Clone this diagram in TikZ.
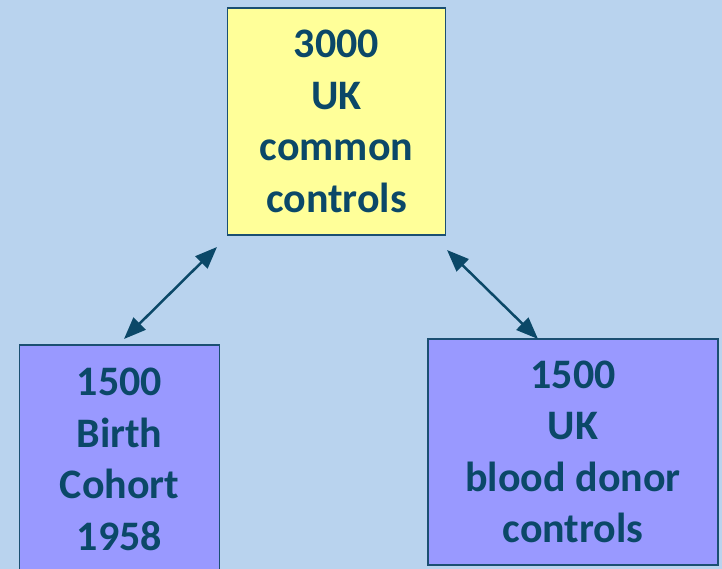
\documentclass[tikz,border=0pt]{standalone}
\usepackage{fontspec}
\setmainfont{Carlito}
\usetikzlibrary{arrows.meta}
\definecolor{bgblue}{HTML}{B9D3EE}
\definecolor{ink}{HTML}{0B4868}
\definecolor{boxline}{HTML}{1B4F72}
\definecolor{paleyellow}{HTML}{FFFF99}
\definecolor{lilac}{HTML}{9999FF}
\tikzset{
  cohortbox/.style={draw=boxline, line width=1.5pt, rectangle, align=center,
    text=ink, font=\fontsize{42}{51.5}\selectfont\bfseries, inner sep=0pt},
  tip/.tip={Triangle[length=22pt,width=17pt]},
  link/.style={draw=ink, line width=2.5pt, tip-tip}
}
\begin{document}
\begin{tikzpicture}[x=1pt,y=-1pt]
  \fill[bgblue] (0,0) rectangle (722,569);
  \useasboundingbox (0,0) rectangle (722,569);
  \clip (0,0) rectangle (722,569);

  % central reference panel
  \node[cohortbox, fill=paleyellow, minimum width=218pt, minimum height=227pt]
    (common) at (336.5,121.5) {3000\\UK\\common\\controls};

  % the two contributing collections
  \node[cohortbox, fill=lilac, minimum width=200pt, minimum height=229pt]
    (birth) at (119.5,459.5) {1500\\Birth\\Cohort\\1958};
  \node[cohortbox, fill=lilac, minimum width=290pt, minimum height=226pt]
    (donor) at (573,452) {1500\\UK\\blood donor\\controls};

  % arrow end points
  \coordinate (bA) at (124,339);
  \coordinate (cA) at (217,247);
  \coordinate (cB) at (447,250);
  \coordinate (dB) at (538,339);

  \draw[link] (bA) -- (cA);
  \draw[link] (cB) -- (dB);
\end{tikzpicture}
\end{document}
